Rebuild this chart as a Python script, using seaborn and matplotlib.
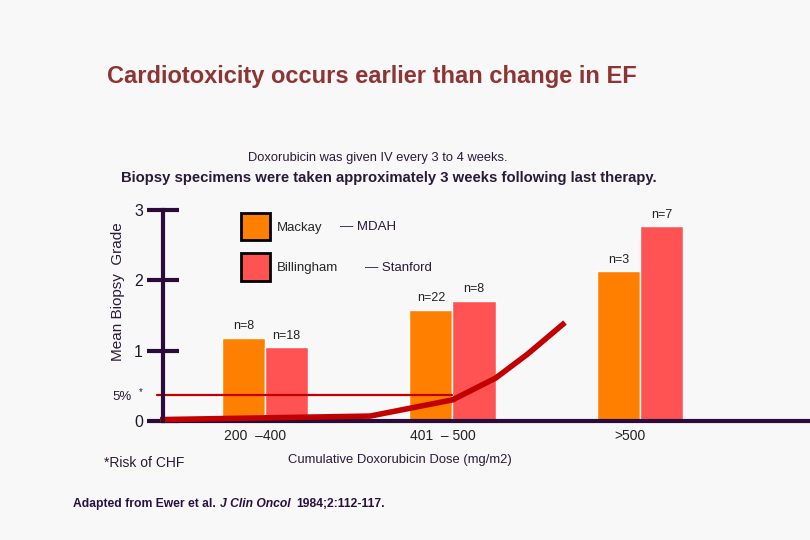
import matplotlib
matplotlib.use("Agg")
import matplotlib.pyplot as plt
import matplotlib.patches as mpatches
import matplotlib.transforms as mtransforms
import seaborn as sns
import pandas as pd

# ---- data ----
dose_groups = ["200  \u2013400", "401  \u2013 500", ">500"]
series_names = ["Mackay", "Billingham"]
mackay_grade = [1.18, 1.58, 2.13]
billingham_grade = [1.05, 1.71, 2.77]
mackay_n = ["n=8", "n=22", "n=3"]
billingham_n = ["n=18", "n=8", "n=7"]
chf_x = [-0.56, 0.56, 1.0, 1.23, 1.40, 1.60]
chf_y = [0.02, 0.07, 0.30, 0.61, 0.95, 1.40]
five_pct_level = 0.37
y_ticks = [0, 1, 2, 3]

BG = "#f8f8f8"
DARK = "#2a0b3c"
ORANGE = "#ff8000"
PINK = "#ff5252"
CURVE = "#c20000"

sns.set_theme(style="white")
plt.rcParams["font.family"] = ["Liberation Sans", "DejaVu Sans"]

df = pd.DataFrame({
    "Dose": dose_groups * 2,
    "Series": [series_names[0]] * 3 + [series_names[1]] * 3,
    "Grade": mackay_grade + billingham_grade,
})

W, H = 810, 540
fig = plt.figure(figsize=(W / 100, H / 100), dpi=100, facecolor=BG)
ax = fig.add_axes([163 / W, 1 - 421 / H, (W - 163) / W, (421 - 210) / H])
ax.set_facecolor(BG)

sns.barplot(data=df, x="Dose", y="Grade", hue="Series", order=dose_groups,
            hue_order=series_names, palette=[ORANGE, PINK], width=0.46,
            saturation=1, ax=ax, legend=False, errorbar=None)

ax.set_xlim(-0.544, 2.907)
ax.set_ylim(0, 3)

for cont, labs in zip(ax.containers, [mackay_n, billingham_n]):
    ax.bar_label(cont, labels=labs, padding=4, fontsize=9, color="#222222")

# 5% line and CHF curve
ax.plot([-0.576, 1.0], [five_pct_level, five_pct_level], color=CURVE, lw=1.6,
        clip_on=False, zorder=4)
ax.plot(chf_x, chf_y, color=CURVE, lw=4, solid_capstyle="butt", clip_on=False, zorder=5)

# spines / ticks
for s in ["top", "right"]:
    ax.spines[s].set_visible(False)
ax.spines["left"].set_linewidth(3)
ax.spines["left"].set_color(DARK)
ax.spines["bottom"].set_linewidth(3)
ax.spines["bottom"].set_color(DARK)
ax.spines["left"].set_zorder(6)
ax.set_yticks(y_ticks)
ax.set_yticklabels([str(t) for t in y_ticks])
ax.tick_params(axis="y", direction="inout", length=23, width=3, color=DARK,
               labelsize=11.5, labelcolor="#1a1a2a", pad=3, left=True)
ax.tick_params(axis="x", length=0, labelsize=10, labelcolor="#222222", pad=6)
shift = mtransforms.ScaledTranslation(-10 / 100, 0, fig.dpi_scale_trans)
for lab in ax.get_xticklabels():
    lab.set_transform(lab.get_transform() + shift)
ax.set_xlabel("")
ax.set_ylabel("")

# texts
def ftext(px, py, s, **kw):
    fig.text(px / W, 1 - py / H, s, va="center", **kw)

ftext(372, 76, "Cardiotoxicity occurs earlier than change in EF", ha="center",
      fontsize=17, fontweight="bold", color="#8e3434")
ftext(378, 158, "Doxorubicin was given IV every 3 to 4 weeks.", ha="center",
      fontsize=9.3, color="#2a1a3a")
ftext(389, 178, "Biopsy specimens were taken approximately 3 weeks following last therapy.",
      ha="center", fontsize=10.7, fontweight="bold", color="#2a1a3a")
ftext(118, 292, "Mean Biopsy  Grade", ha="center", rotation=90, fontsize=11,
      color="#2a1a3a")
ftext(112, 397, "5%", ha="left", fontsize=9.5, color="#2a1a3a")
ftext(139, 392, "*", ha="left", fontsize=7, color="#2a1a3a")
ftext(104, 463, "*Risk of CHF", ha="left", fontsize=10, color="#2a1a3a")
ftext(400, 460, "Cumulative Doxorubicin Dose (mg/m2)", ha="center", fontsize=9.4,
      color="#2a1a3a")
ftext(73, 504, "Adapted from Ewer et al.", ha="left", fontsize=8.7, fontweight="bold",
      color="#2a1040")
ftext(220, 504, "J Clin Oncol", ha="left", fontsize=8.7, fontweight="bold",
      fontstyle="italic", color="#2a1040")
ftext(296, 504, "1984;2:112-117.", ha="left", fontsize=8.7, fontweight="bold",
      color="#2a1040")

# legend
handles = [mpatches.Patch(facecolor=ORANGE, edgecolor="black", linewidth=2),
           mpatches.Patch(facecolor=PINK, edgecolor="black", linewidth=2)]
fig.legend(handles, series_names, loc="upper left",
           bbox_to_anchor=(241 / W, 1 - 213 / H), frameon=False, fontsize=9.5,
           handlelength=2.2, handleheight=2.8, labelspacing=1.0,
           handletextpad=0.55, borderpad=0, borderaxespad=0)
ftext(340, 227, "\u2014 MDAH", ha="left", fontsize=9.5, color="#2a1a3a")
ftext(365, 268, "\u2014 Stanford", ha="left", fontsize=9.5, color="#2a1a3a")

fig.savefig("out.png", dpi=100, facecolor=BG)
